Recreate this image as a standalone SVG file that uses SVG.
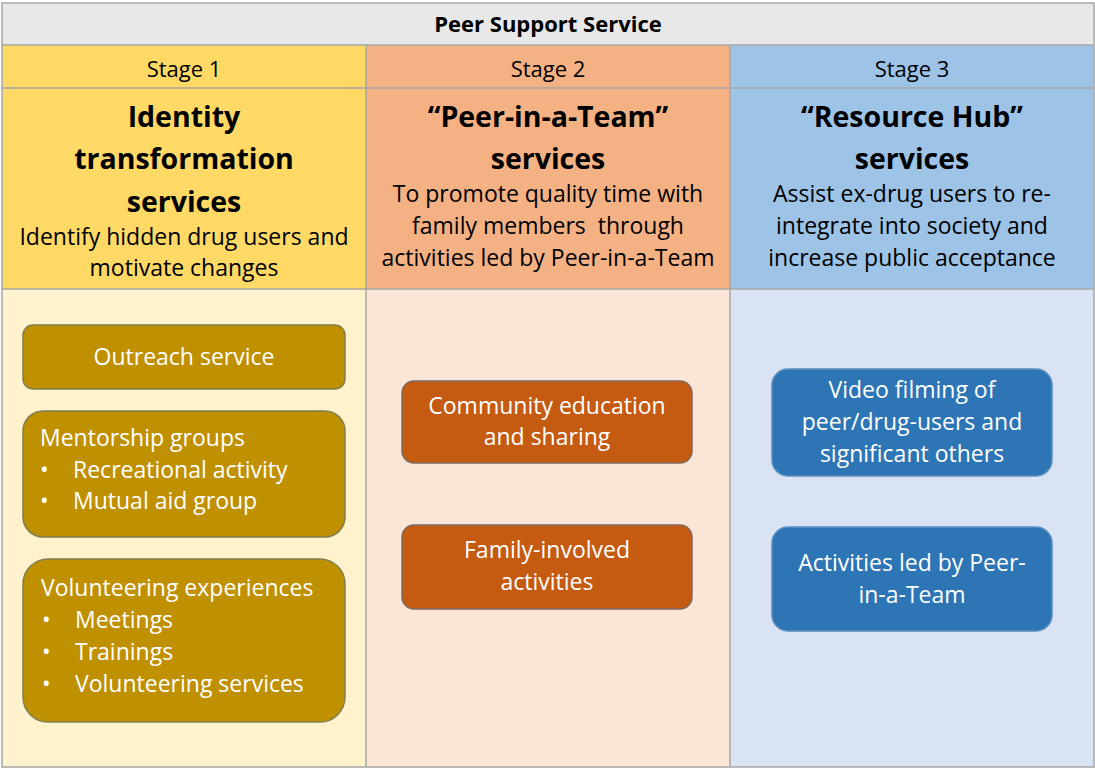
<svg xmlns="http://www.w3.org/2000/svg" width="1095" height="769" viewBox="0 0 1095 769">
<style>
text{font-family:"Open Sans","Noto Sans","Liberation Sans",sans-serif;fill:#000}
.hd{font-size:22px;font-weight:bold;text-anchor:middle}
.st{font-size:22px;text-anchor:middle}
.tt{font-size:28.5px;font-weight:bold;text-anchor:middle}
.sb{font-size:23px;text-anchor:middle}
.bx{font-size:23px;fill:#fff}
.c{text-anchor:middle}
.grid{fill:none;stroke:#a6a6a6;stroke-width:1.5}
.b1{fill:#bf9000;stroke:#7f7f50;stroke-width:1.5}
.b2{fill:#c55a11;stroke:#7f6a60;stroke-width:1.5}
.b3{fill:#2e75b6;stroke:#5a8fc0;stroke-width:1.5}
</style>
<rect width="1095" height="769" fill="#fff"/>
<g id="table">
<rect x="2" y="3" width="1092" height="42" fill="#e8e8e8"/>
<rect x="2" y="45" width="364" height="244" fill="#fed966"/>
<rect x="366" y="45" width="364" height="244" fill="#f4b183"/>
<rect x="730" y="45" width="364" height="244" fill="#9dc3e6"/>
<rect x="2" y="289" width="364" height="478" fill="#fff2cc"/>
<rect x="366" y="289" width="364" height="478" fill="#fbe5d6"/>
<rect x="730" y="289" width="364" height="478" fill="#dae3f3"/>
<path class="grid" d="M2 3H1094V767H2Z M2 45H1094 M2 88H1094 M2 289H1094 M366 45V767 M730 45V767"/>
<text class="hd" x="548" y="32">Peer Support Service</text>
</g>
<g id="stage1-header">
<text class="st" x="184" y="77">Stage 1</text>
<text class="tt" x="184" y="127">Identity</text>
<text class="tt" x="184" y="169">transformation</text>
<text class="tt" x="184" y="212">services</text>
<text class="sb" x="184" y="245">Identify hidden drug users and</text>
<text class="sb" x="184" y="276">motivate changes</text>
</g>
<g id="stage2-header">
<text class="st" x="548" y="77">Stage 2</text>
<text class="tt" x="548" y="127">“Peer-in-a-Team”</text>
<text class="tt" x="548" y="169">services</text>
<text class="sb" x="548" y="202">To promote quality time with</text>
<text class="sb" x="548" y="234" xml:space="preserve">family members  through</text>
<text class="sb" x="548" y="266">activities led by Peer-in-a-Team</text>
</g>
<g id="stage3-header">
<text class="st" x="912" y="77">Stage 3</text>
<text class="tt" x="912" y="127">“Resource Hub”</text>
<text class="tt" x="912" y="169">services</text>
<text class="sb" x="912" y="202">Assist ex-drug users to re-</text>
<text class="sb" x="912" y="234">integrate into society and</text>
<text class="sb" x="912" y="266">increase public acceptance</text>
</g>
<g id="outreach">
<rect class="b1" x="23" y="325" width="322" height="64" rx="10"/>
<text class="bx c" x="184" y="365">Outreach service</text>
</g>
<g id="mentorship">
<rect class="b1" x="23" y="411" width="322" height="126" rx="20"/>
<text class="bx" x="40" y="446">Mentorship groups</text>
<text class="bx" x="40" y="478">•</text>
<text class="bx" x="73" y="478">Recreational activity</text>
<text class="bx" x="40" y="509">•</text>
<text class="bx" x="73" y="509">Mutual aid group</text>
</g>
<g id="volunteering">
<rect class="b1" x="23" y="559" width="322" height="163" rx="25"/>
<text class="bx" x="41" y="596">Volunteering experiences</text>
<text class="bx" x="42" y="628">•</text>
<text class="bx" x="75" y="628">Meetings</text>
<text class="bx" x="42" y="660">•</text>
<text class="bx" x="75" y="660">Trainings</text>
<text class="bx" x="42" y="692">•</text>
<text class="bx" x="75" y="692">Volunteering services</text>
</g>
<g id="community">
<rect class="b2" x="402" y="381" width="290" height="82" rx="12"/>
<text class="bx c" x="547" y="414">Community education</text>
<text class="bx c" x="547" y="445">and sharing</text>
</g>
<g id="family">
<rect class="b2" x="402" y="525" width="290" height="84" rx="12"/>
<text class="bx c" x="547" y="558">Family-involved</text>
<text class="bx c" x="547" y="590">activities</text>
</g>
<g id="video">
<rect class="b3" x="772" y="369" width="280" height="107" rx="16"/>
<text class="bx c" x="912" y="398">Video filming of</text>
<text class="bx c" x="912" y="430">peer/drug-users and</text>
<text class="bx c" x="912" y="462">significant others</text>
</g>
<g id="activities">
<rect class="b3" x="772" y="527" width="280" height="104" rx="16"/>
<text class="bx c" x="912" y="571">Activities led by Peer-</text>
<text class="bx c" x="912" y="603">in-a-Team</text>
</g>
<g id="connectors"/>
</svg>
